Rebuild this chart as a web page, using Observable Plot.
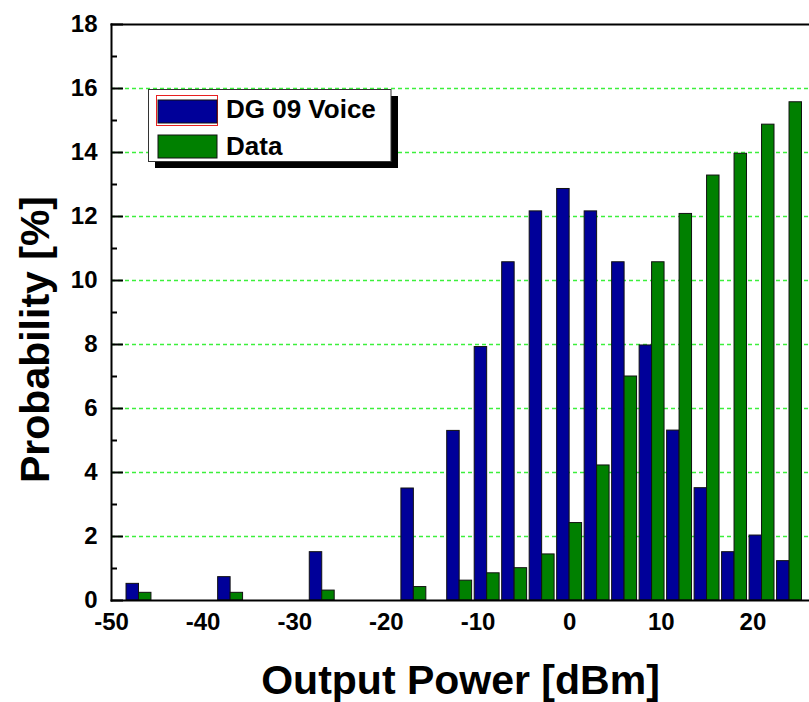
<!DOCTYPE html>
<html><head><meta charset="utf-8">
<script src="https://cdn.jsdelivr.net/npm/d3@7"></script>
<script src="https://cdn.jsdelivr.net/npm/@observablehq/plot@0.6"></script>
<style>
body{margin:0;background:#fff}
#chart{width:809px;height:702px}
</style>
</head><body><div id="chart"></div>
<script>
// ---- data ----
const powerCenters = [-47,-37,-27,-17,-12,-9,-6,-3,0,3,6,9,12,15,18,21,24];
const voiceValues  = [0.52,0.73,1.51,3.5,5.3,7.92,10.57,12.16,12.86,12.16,10.57,7.97,5.31,3.51,1.51,2.03,1.23];
const dataValues   = [0.24,0.24,0.31,0.42,0.62,0.85,1.01,1.44,2.42,4.22,7.0,10.57,12.08,13.28,13.96,14.87,15.57];
const seriesNames  = ["DG 09 Voice","Data"];
const xTicks       = [-50,-40,-30,-20,-10,0,10,20];
const yMajorTicks  = [0,2,4,6,8,10,12,14,16,18];
const yMinorTicks  = [1,3,5,7,9,11,13,15,17];
const gridTicks    = [2,4,6,8,10,12,14,16];
const xTitle = "Output Power [dBm]";
const yTitle = "Probability [%]";

const blue = "#000099", green = "#008000";
const halfWidth = 1.36;
const FONT = "'Liberation Sans', Arial, sans-serif";

const rows = powerCenters.map((c, i) => ({c, voice: voiceValues[i], data: dataValues[i]}));
const fmt = d => d < 0 ? "-" + Math.abs(d) : String(d);

const plot = Plot.plot({
  width: 809, height: 702,
  marginLeft: 111, marginRight: 0, marginTop: 24, marginBottom: 102,
  x: {domain: [-50, 26.18]},
  y: {domain: [0, 18]},
  style: {background: "white", fontFamily: FONT, color: "black"},
  marks: [
    Plot.ruleY(gridTicks, {stroke: "#3cf03c", strokeWidth: 1.5, strokeDasharray: "4,3"}),
    Plot.rectY(rows, {x1: d => d.c - halfWidth, x2: d => d.c, y: "voice", fill: blue, stroke: "#111", strokeWidth: 1}),
    Plot.rectY(rows, {x1: d => d.c, x2: d => d.c + halfWidth, y: "data", fill: green, stroke: "#111", strokeWidth: 1}),
    Plot.axisY(yMajorTicks, {tickSize: -12, tickFormat: () => "", strokeWidth: 2, label: null}),
    Plot.axisY(yMinorTicks, {tickSize: -6, tickFormat: () => "", strokeWidth: 2, label: null}),
    Plot.axisY(yMajorTicks, {tickSize: 0, tickPadding: 14, fontSize: 24, fontWeight: "bold", tickFormat: fmt, label: null}),
    Plot.axisX(xTicks, {tickSize: 0, tickPadding: 12, fontSize: 24, fontWeight: "bold", tickFormat: fmt, label: null}),
    Plot.frame({anchor: "left", strokeWidth: 2}),
    Plot.frame({anchor: "top", strokeWidth: 2}),
    Plot.frame({anchor: "bottom", strokeWidth: 2}),
    Plot.text([xTitle], {frameAnchor: "bottom", dy: 80, fontSize: 41, fontWeight: "bold", lineAnchor: "middle", textAnchor: "middle"}),
    Plot.text([yTitle], {frameAnchor: "left", rotate: -90, dx: -76, dy: 27, fontSize: 41, fontWeight: "bold", lineAnchor: "middle", textAnchor: "middle"})
  ]
});
document.getElementById("chart").appendChild(plot);

// ---- legend inside the plot ----
const svg = d3.select(plot);
const lg = svg.append("g")
  .style("font-family", FONT).style("font-weight", "bold").style("font-size", "26px");
lg.append("rect").attr("x", 155).attr("y", 96).attr("width", 243).attr("height", 72).attr("fill", "black");
lg.append("rect").attr("x", 148.5).attr("y", 89.5).attr("width", 242.5).attr("height", 72).attr("fill", "white").attr("stroke", "#333").attr("stroke-width", 1);
lg.append("rect").attr("x", 156.5).attr("y", 95.5).attr("width", 61).attr("height", 30).attr("fill", "none").attr("stroke", "#e82020").attr("stroke-width", 1);
const swatchColors = [blue, green];
seriesNames.forEach((name, i) => {
  lg.append("rect").attr("x", 158).attr("y", 100 + i * 35).attr("width", 59).attr("height", 23)
    .attr("fill", swatchColors[i]).attr("stroke", "#111").attr("stroke-width", 1);
  lg.append("text").attr("x", 226).attr("y", 118 + i * 37)
    .style("text-anchor", "start").attr("fill", "black").text(name);
});
</script>
</body></html>
